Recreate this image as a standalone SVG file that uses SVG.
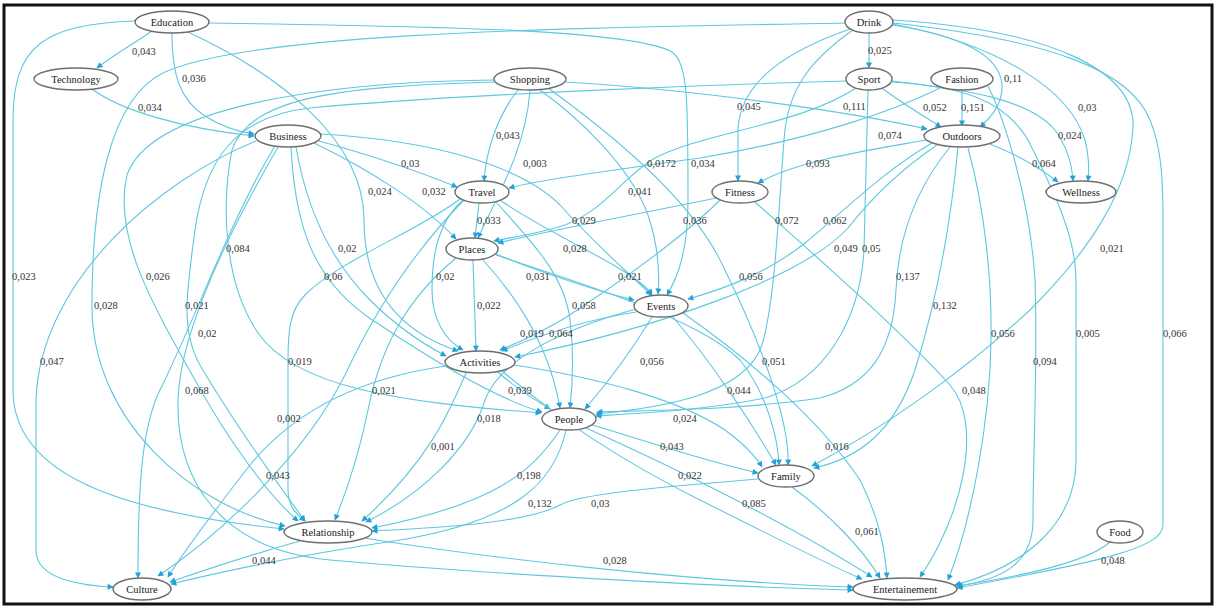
<svg xmlns="http://www.w3.org/2000/svg" width="1217" height="608" viewBox="0 0 1217 608">
<style>
.e{fill:none;stroke:#5fc7e0;stroke-width:1.1;marker-end:url(#ah)}
.n ellipse{fill:#fff;stroke:#6e6e6e;stroke-width:1.4}
.n text{font-family:"Liberation Serif","DejaVu Serif","Times New Roman",serif;font-size:10.5px;fill:#1a1a1a;text-anchor:middle}
.l{font-family:"Liberation Serif","DejaVu Serif","Times New Roman",serif;font-size:10.5px;fill:#333}
</style>
<defs>
<marker id="ah" viewBox="0 0 10 10" refX="9" refY="5" markerWidth="7" markerHeight="6" markerUnits="userSpaceOnUse" orient="auto"><path d="M0,0 L10,5 L0,10 z" fill="#22a2d8"/></marker>
</defs>
<rect x="0" y="0" width="1217" height="608" fill="#fff"/>
<rect x="4" y="5" width="1208" height="599" fill="none" stroke="#111" stroke-width="3"/>
<g id="connectors">
<path class="e" d="M152,31 C135,43 112,56 97,68"/>
<path class="e" d="M172,33 C172,75 180,100 205,116 C222,127 240,132 254,134"/>
<path class="e" d="M92,89 C120,110 180,128 254,136"/>
<path class="e" d="M188,32 C280,75 364,140 364,220 C364,300 410,335 458,351"/>
<path class="e" d="M209,23 C400,26 630,28 672,52 C688,64 688,100 688,200 C688,255 676,280 667,295"/>
<path class="e" d="M135,21 C45,24 13,45 13,120 L13,390 C13,475 120,512 284,529"/>
<path class="e" d="M256,141 C160,180 40,280 36,400 L36,550 C36,576 70,585 113,587"/>
<path class="e" d="M845,23 C600,28 260,30 165,72 C108,98 92,200 92,306 C92,420 190,505 285,526"/>
<path class="e" d="M494,80 C320,82 150,108 127,175 C113,235 150,300 195,380 C228,440 268,495 298,521"/>
<path class="e" d="M495,82 C350,86 250,95 232,150 C222,200 222,280 258,333 C296,388 400,402 541,413"/>
<path class="e" d="M846,81 C700,85 450,95 310,108 C235,116 205,160 195,230 C187,290 180,330 200,365 C232,420 275,480 305,521"/>
<path class="e" d="M275,146 C230,220 195,320 160,390 C140,430 138,500 138,578"/>
<path class="e" d="M278,147 C230,230 180,330 178,400 C176,480 220,550 330,560 C500,575 750,588 853,590"/>
<path class="e" d="M296,147 C305,200 325,255 370,300 C400,330 425,345 446,356"/>
<path class="e" d="M291,147 C295,230 315,285 380,325 C440,365 500,400 542,412"/>
<path class="e" d="M319,141 C370,155 420,172 457,187"/>
<path class="e" d="M314,143 C370,170 425,205 456,239"/>
<path class="e" d="M320,134 C430,140 520,165 560,205 C600,250 635,278 651,295"/>
<path class="e" d="M460,199 C420,230 340,260 305,295 C290,310 288,330 288,360 L288,490 C288,506 296,514 305,521"/>
<path class="e" d="M464,200 C420,245 380,300 345,375 C305,455 220,535 158,576"/>
<path class="e" d="M446,366 C360,378 295,410 250,465 C215,510 185,550 168,577"/>
<path class="e" d="M456,258 C405,300 380,350 368,410 C358,460 345,495 335,520"/>
<path class="e" d="M518,90 C498,115 486,150 484,181"/>
<path class="e" d="M530,90 C526,150 495,200 478,238"/>
<path class="e" d="M540,90 C575,115 630,165 648,215 C658,245 660,270 658,294"/>
<path class="e" d="M565,82 C700,90 850,112 927,129"/>
<path class="e" d="M856,88 C800,125 705,132 655,158 C625,175 605,210 565,225 C530,236 505,238 494,241"/>
<path class="e" d="M850,29 C790,50 740,80 738,130 L738,181"/>
<path class="e" d="M869,33 L869,68"/>
<path class="e" d="M892,25 C960,35 1000,55 1002,85 C1003,105 990,118 980,127"/>
<path class="e" d="M893,24 C1000,45 1070,90 1085,140 C1090,160 1089,172 1088,181"/>
<path class="e" d="M882,88 C900,102 922,115 941,127"/>
<path class="e" d="M962,90 L962,126"/>
<path class="e" d="M942,87 C900,108 820,138 700,158 C600,172 540,180 509,188"/>
<path class="e" d="M892,81 C970,90 1030,100 1055,130 C1068,148 1072,165 1073,181"/>
<path class="e" d="M990,144 C1018,155 1040,168 1058,182"/>
<path class="e" d="M926,140 C870,150 800,160 758,183"/>
<path class="e" d="M479,203 L475,238"/>
<path class="e" d="M500,200 C540,228 590,250 625,272 C640,282 648,288 652,295"/>
<path class="e" d="M716,198 C650,212 560,228 498,243"/>
<path class="e" d="M853,30 C810,60 787,90 784,140 C778,220 775,300 762,345 C745,395 660,408 596,414"/>
<path class="e" d="M932,143 C885,170 845,210 805,243 C765,275 720,290 688,299"/>
<path class="e" d="M937,145 C900,170 870,200 848,228 C800,280 650,330 515,357"/>
<path class="e" d="M868,90 L864,250 C860,320 825,380 765,398 C705,410 645,413 596,416"/>
<path class="e" d="M893,20 C1050,30 1135,70 1133,127 C1130,190 1090,250 1030,310 C960,375 880,430 812,466"/>
<path class="e" d="M950,147 C915,190 898,240 896,290 C893,350 870,385 820,398 C740,410 660,410 597,412"/>
<path class="e" d="M958,147 C952,210 940,290 915,370 C895,430 860,458 814,468"/>
<path class="e" d="M968,148 C985,210 992,280 991,340 C990,420 972,520 948,580"/>
<path class="e" d="M892,82 C960,86 1005,100 1028,140 C1045,175 1076,230 1076,280 L1076,460 C1076,520 1030,565 955,585"/>
<path class="e" d="M893,23 C1050,40 1130,70 1150,120 C1160,145 1163,170 1163,220 L1163,525 C1163,548 1100,562 957,588"/>
<path class="e" d="M988,86 C1005,120 1030,200 1035,280 C1038,360 1033,450 1033,520 C1033,565 1000,580 957,586"/>
<path class="e" d="M755,202 C820,260 900,330 950,385 C985,425 960,520 920,577"/>
<path class="e" d="M463,200 C440,220 432,250 432,290 C432,320 445,340 463,350"/>
<path class="e" d="M496,254 C540,272 600,292 634,300"/>
<path class="e" d="M720,200 C680,240 620,282 565,318 C540,333 515,344 500,350"/>
<path class="e" d="M473,260 L476,351"/>
<path class="e" d="M496,202 C530,240 565,275 570,320 C575,360 572,390 570,408"/>
<path class="e" d="M636,312 C585,320 540,335 502,351"/>
<path class="e" d="M482,259 C520,300 550,350 560,408"/>
<path class="e" d="M652,317 C632,350 610,380 585,409"/>
<path class="e" d="M496,255 C600,290 700,320 740,360 C768,395 778,440 779,465"/>
<path class="e" d="M498,372 C515,388 535,400 550,409"/>
<path class="e" d="M672,316 C710,360 750,420 776,465"/>
<path class="e" d="M636,309 C560,330 500,360 485,400 C470,450 420,495 366,522"/>
<path class="e" d="M466,373 C450,410 430,460 362,521"/>
<path class="e" d="M514,365 C600,378 680,400 725,430 C745,445 755,455 762,467"/>
<path class="e" d="M592,425 C650,442 700,460 758,473"/>
<path class="e" d="M560,430 C530,475 490,505 372,528"/>
<path class="e" d="M566,430 C555,480 520,520 400,540 C300,555 220,572 171,584"/>
<path class="e" d="M758,479 C650,488 580,494 560,505 C525,524 430,528 372,531"/>
<path class="e" d="M502,371 C560,420 620,460 700,500 C780,540 835,568 862,579"/>
<path class="e" d="M586,428 C680,470 790,525 872,577"/>
<path class="e" d="M683,313 C750,360 820,420 860,480 C880,520 885,550 887,578"/>
<path class="e" d="M792,487 C830,515 862,548 880,578"/>
<path class="e" d="M300,541 C250,555 205,570 170,582"/>
<path class="e" d="M364,538 C500,560 700,582 853,587"/>
<path class="e" d="M1110,542 C1090,560 1030,575 957,586"/>
<path class="e" d="M548,88 C620,140 690,200 720,260 C760,340 790,420 788,465"/>
</g>
<g id="labels">
<text class="l" x="132" y="55">0,043</text>
<text class="l" x="182" y="82">0,036</text>
<text class="l" x="138" y="111">0,034</text>
<text class="l" x="368" y="195">0,024</text>
<text class="l" x="691" y="167">0,034</text>
<text class="l" x="12" y="280">0,023</text>
<text class="l" x="40" y="365">0,047</text>
<text class="l" x="94" y="309">0,028</text>
<text class="l" x="146" y="280">0,026</text>
<text class="l" x="226" y="252">0,084</text>
<text class="l" x="185" y="309">0,021</text>
<text class="l" x="198" y="337">0,02</text>
<text class="l" x="185" y="394">0,068</text>
<text class="l" x="338" y="252">0,02</text>
<text class="l" x="324" y="280">0,06</text>
<text class="l" x="401" y="167">0,03</text>
<text class="l" x="422" y="195">0,032</text>
<text class="l" x="572" y="224">0,029</text>
<text class="l" x="288" y="365">0,019</text>
<text class="l" x="277" y="422">0,002</text>
<text class="l" x="266" y="479">0,043</text>
<text class="l" x="372" y="394">0,021</text>
<text class="l" x="496" y="139">0,043</text>
<text class="l" x="523" y="167">0,003</text>
<text class="l" x="628" y="195">0,041</text>
<text class="l" x="843" y="110">0,111</text>
<text class="l" x="647" y="167">0,0172</text>
<text class="l" x="737" y="110">0,045</text>
<text class="l" x="868" y="54">0,025</text>
<text class="l" x="1004" y="82">0,11</text>
<text class="l" x="1078" y="111">0,03</text>
<text class="l" x="923" y="111">0,052</text>
<text class="l" x="961" y="111">0,151</text>
<text class="l" x="878" y="139">0,074</text>
<text class="l" x="1058" y="139">0,024</text>
<text class="l" x="1032" y="167">0,064</text>
<text class="l" x="806" y="167">0,093</text>
<text class="l" x="477" y="224">0,033</text>
<text class="l" x="563" y="252">0,028</text>
<text class="l" x="683" y="224">0,036</text>
<text class="l" x="775" y="224">0,072</text>
<text class="l" x="823" y="224">0,062</text>
<text class="l" x="834" y="252">0,049</text>
<text class="l" x="862" y="252">0,05</text>
<text class="l" x="1100" y="252">0,021</text>
<text class="l" x="896" y="280">0,137</text>
<text class="l" x="933" y="309">0,132</text>
<text class="l" x="991" y="337">0,056</text>
<text class="l" x="1076" y="337">0,005</text>
<text class="l" x="1163" y="337">0,066</text>
<text class="l" x="1033" y="365">0,094</text>
<text class="l" x="962" y="394">0,048</text>
<text class="l" x="436" y="280">0,02</text>
<text class="l" x="526" y="280">0,031</text>
<text class="l" x="618" y="280">0,021</text>
<text class="l" x="739" y="280">0,056</text>
<text class="l" x="477" y="309">0,022</text>
<text class="l" x="572" y="309">0,058</text>
<text class="l" x="520" y="337">0,019</text>
<text class="l" x="549" y="337">0,064</text>
<text class="l" x="640" y="365">0,056</text>
<text class="l" x="762" y="365">0,051</text>
<text class="l" x="508" y="394">0,039</text>
<text class="l" x="727" y="394">0,044</text>
<text class="l" x="477" y="422">0,018</text>
<text class="l" x="673" y="422">0,024</text>
<text class="l" x="431" y="450">0,001</text>
<text class="l" x="660" y="450">0,043</text>
<text class="l" x="825" y="450">0,016</text>
<text class="l" x="517" y="479">0,198</text>
<text class="l" x="678" y="479">0,022</text>
<text class="l" x="528" y="507">0,132</text>
<text class="l" x="591" y="507">0,03</text>
<text class="l" x="742" y="507">0,085</text>
<text class="l" x="855" y="535">0,061</text>
<text class="l" x="252" y="564">0,044</text>
<text class="l" x="603" y="564">0,028</text>
<text class="l" x="1101" y="564">0,048</text>
</g>
<g id="nodes">
<g id="node-education" class="n"><ellipse cx="172" cy="22" rx="37" ry="11"/><text x="172" y="25.5">Education</text></g>
<g id="node-technology" class="n"><ellipse cx="76" cy="79" rx="42" ry="11"/><text x="76" y="82.5">Technology</text></g>
<g id="node-shopping" class="n"><ellipse cx="530" cy="79" rx="36" ry="11"/><text x="530" y="82.5">Shopping</text></g>
<g id="node-drink" class="n"><ellipse cx="869" cy="22" rx="24" ry="11"/><text x="869" y="25.5">Drink</text></g>
<g id="node-sport" class="n"><ellipse cx="869" cy="79" rx="23" ry="11"/><text x="869" y="82.5">Sport</text></g>
<g id="node-fashion" class="n"><ellipse cx="962" cy="79" rx="31" ry="11"/><text x="962" y="82.5">Fashion</text></g>
<g id="node-business" class="n"><ellipse cx="288" cy="136" rx="33" ry="11"/><text x="288" y="139.5">Business</text></g>
<g id="node-outdoors" class="n"><ellipse cx="962" cy="136" rx="38" ry="11"/><text x="962" y="139.5">Outdoors</text></g>
<g id="node-travel" class="n"><ellipse cx="482" cy="192" rx="27" ry="11"/><text x="482" y="195.5">Travel</text></g>
<g id="node-fitness" class="n"><ellipse cx="740" cy="192" rx="28" ry="11"/><text x="740" y="195.5">Fitness</text></g>
<g id="node-wellness" class="n"><ellipse cx="1081" cy="192" rx="35" ry="11"/><text x="1081" y="195.5">Wellness</text></g>
<g id="node-places" class="n"><ellipse cx="472" cy="249" rx="26" ry="11"/><text x="472" y="252.5">Places</text></g>
<g id="node-events" class="n"><ellipse cx="661" cy="306" rx="27" ry="11"/><text x="661" y="309.5">Events</text></g>
<g id="node-activities" class="n"><ellipse cx="480" cy="362" rx="35" ry="11"/><text x="480" y="365.5">Activities</text></g>
<g id="node-people" class="n"><ellipse cx="569" cy="419" rx="27" ry="11"/><text x="569" y="422.5">People</text></g>
<g id="node-family" class="n"><ellipse cx="786" cy="476" rx="28" ry="11"/><text x="786" y="479.5">Family</text></g>
<g id="node-relationship" class="n"><ellipse cx="328" cy="532" rx="44" ry="11"/><text x="328" y="535.5">Relationship</text></g>
<g id="node-food" class="n"><ellipse cx="1120" cy="532" rx="23" ry="11"/><text x="1120" y="535.5">Food</text></g>
<g id="node-culture" class="n"><ellipse cx="142" cy="589" rx="29" ry="11"/><text x="142" y="592.5">Culture</text></g>
<g id="node-entertainement" class="n"><ellipse cx="905" cy="589" rx="52" ry="11"/><text x="905" y="592.5">Entertainement</text></g>
</g>
</svg>
